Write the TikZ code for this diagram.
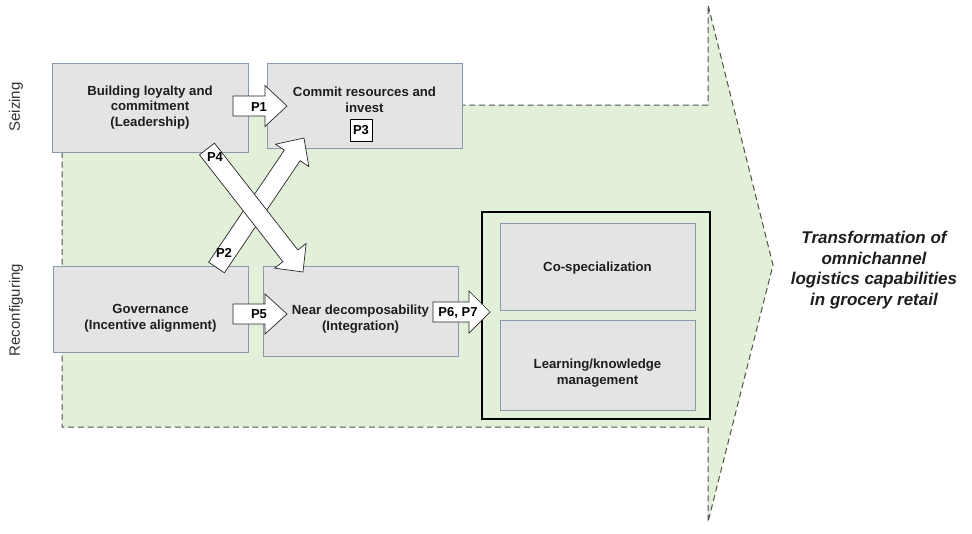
\documentclass[tikz,border=0pt]{standalone}
\usepackage{fontspec}
\setmainfont{Liberation Sans}
\usetikzlibrary{calc,fit}
\definecolor{boxfill}{HTML}{E4E4E4}
\definecolor{boxline}{HTML}{8A98AC}
\definecolor{greenfill}{HTML}{E2F0D9}
\definecolor{dashline}{HTML}{505050}
\definecolor{txt}{HTML}{1E1E1E}
\tikzset{
  capbox/.style={draw=boxline, fill=boxfill, line width=0.9pt, inner sep=0pt},
  captext/.style={font=\fontsize{13.2}{15.7}\selectfont\bfseries, align=center, text=txt},
  blockarr/.style={draw=black!85, fill=white, line width=0.7pt, line join=miter},
  plabel/.style={font=\fontsize{13}{15}\selectfont\bfseries, text=black, inner sep=0pt},
  sidelabel/.style={font=\fontsize{15}{18}\selectfont, text=black!80, rotate=90},
  greenarrow/.style={draw=dashline, fill=greenfill, line width=1pt, dash pattern=on 6pt off 3.7pt}
}
% block arrow from #1 (tail centre) to #2 (tip); body half width #3, head half width #4, head length #5
\newcommand{\blockarrow}[5]{%
  \coordinate (ba-h) at ($(#2)!#5!(#1)$);
  \draw[blockarr] ($(#1)!#3!90:(#2)$) -- ($(ba-h)!#3!-90:(#1)$) -- ($(ba-h)!#4!-90:(#1)$)
    -- (#2) -- ($(ba-h)!#4!90:(#1)$) -- ($(ba-h)!#3!90:(#1)$) -- ($(#1)!#3!-90:(#2)$) -- cycle;
}
\begin{document}
\begin{tikzpicture}[x=1pt,y=-1pt]
\useasboundingbox (0,0) rectangle (972,533);
% big green arrow
\draw[greenarrow] (62,105) -- (708,105) -- (708,5) -- (773,265) -- (708,522) -- (708,427) -- (62,427) -- cycle;
% side labels
\node[sidelabel] (seiz) at (16,107) {Seizing};
\node[sidelabel] (reconf) at (16,310) {Reconfiguring};
% boxes
\node[capbox, fit={(52,63)(248,152)}] (lead) {};
\node[captext] (leadtxt) at (150,107.5) {Building loyalty and\\commitment\\(Leadership)};
\node[capbox, fit={(267,63)(462,148)}] (commit) {};
\node[captext] (committxt) at (364.5,100) {Commit resources and\\invest};
\node[draw=black, fill=white, line width=0.8pt, minimum width=22pt, minimum height=22pt, inner sep=0pt, font=\fontsize{13}{15}\selectfont\bfseries] (p3) at (361,130.5) {P3};
\node[capbox, fit={(53,266)(248,352)}] (gov) {};
\node[captext] (govtxt) at (150.5,318) {Governance\\(Incentive alignment)};
\node[capbox, fit={(263,266)(458,356)}] (near) {};
\node[captext] (neartxt) at (360.5,319) {Near decomposability\\(Integration)};
% thick frame
\node[draw=black, line width=2.6pt, fit={(482,212)(710,419)}, inner sep=0pt] (frame) {};
\node[capbox, fit={(500,223)(695,310)}] (cospec) {};
\node[captext] (cospectxt) at (597.5,268) {Co-specialization};
\node[capbox, fit={(500,320)(695,410)}] (learn) {};
\node[captext] (learntxt) at (597.5,373) {Learning/knowledge\\management};
% title
\node[font=\fontsize{17}{20.5}\selectfont\bfseries\itshape, align=center, text=txt] (title) at (874,270) {Transformation of\\omnichannel\\logistics capabilities\\in grocery retail};
% block arrows
\coordinate (p1s) at (233,106); \coordinate (p1e) at (287,106);
\blockarrow{p1s}{p1e}{10pt}{20.5pt}{22pt}
\node[plabel] (p1) at (259,107) {P1};
\coordinate (p5s) at (233,314); \coordinate (p5e) at (287,314);
\blockarrow{p5s}{p5e}{10pt}{20pt}{22pt}
\node[plabel] (p5) at (259,314) {P5};
\coordinate (p6s) at (433,312); \coordinate (p6e) at (490,312);
\blockarrow{p6s}{p6e}{10pt}{21pt}{21pt}
\node[plabel] (p6) at (458,313) {P6, P7};
\coordinate (p2s) at (216.5,267.5); \coordinate (p2e) at (304,138);
\blockarrow{p2s}{p2e}{9.5pt}{20pt}{21pt}
\node[plabel] (p2) at (224,253) {P2};
\coordinate (p4s) at (207,149); \coordinate (p4e) at (303,272);
\blockarrow{p4s}{p4e}{9.5pt}{20pt}{20.5pt}
\node[plabel] (p4) at (215,157) {P4};
\end{tikzpicture}
\end{document}
